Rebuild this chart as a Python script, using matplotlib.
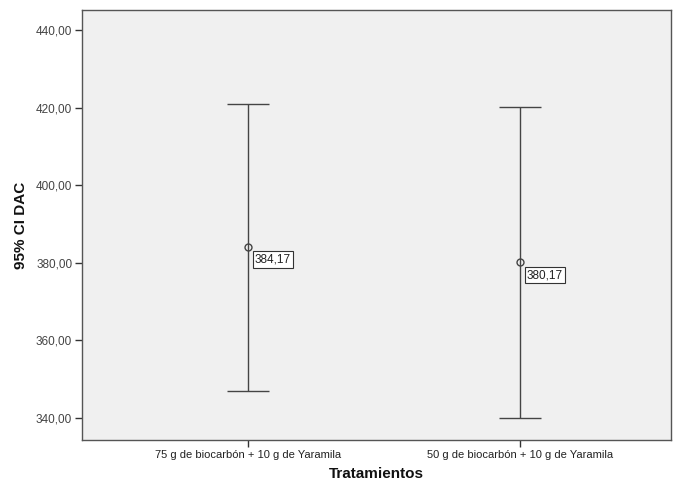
import matplotlib
matplotlib.use("Agg")
import matplotlib.pyplot as plt
from matplotlib.ticker import FuncFormatter

plt.rcParams['font.family'] = ['Liberation Sans', 'DejaVu Sans']

# treatment groups and their 95% CI for DAC
tratamientos = ["75 g de biocarbón + 10 g de Yaramila",
                "50 g de biocarbón + 10 g de Yaramila"]
medias = [384.17, 380.17]
ic_inf = [347.0, 340.0]
ic_sup = [421.0, 420.1]
yticks = [340, 360, 380, 400, 420, 440]

fig = plt.figure(figsize=(6.82, 4.84), dpi=100)
ax = fig.add_axes([0.1202, 0.0909, 0.8637, 0.8884])
ax.set_facecolor("#f0f0f0")

x = list(range(len(tratamientos)))
err_lo = [m - lo for m, lo in zip(medias, ic_inf)]
err_hi = [hi - m for m, hi in zip(medias, ic_sup)]
ax.errorbar(x, medias, yerr=[err_lo, err_hi], fmt="o", color="#444444",
            mfc="none", mec="#444444", ms=5, mew=1.0, elinewidth=1.0,
            capsize=15, capthick=1.0)

for xi, m in zip(x, medias):
    ax.annotate(f"{m:.2f}".replace(".", ","), (xi, m), xytext=(5, -5),
                textcoords="offset points", ha="left", va="top", fontsize=8.5,
                color="#222222",
                bbox=dict(boxstyle="square,pad=0.2", fc="white", ec="#333333", lw=0.8))

ax.set_xlim(-0.61, 1.555)
ax.set_ylim(334.3, 445.2)
ax.set_xticks(x)
ax.set_xticklabels(tratamientos, fontsize=8, color="#222222")
ax.set_yticks(yticks)
ax.yaxis.set_major_formatter(FuncFormatter(lambda v, p: f"{v:.2f}".replace(".", ",")))
ax.tick_params(axis="y", labelsize=8.5, labelcolor="#444444", length=5, width=1, color="#333333", pad=2)
ax.tick_params(axis="x", length=5, width=1, color="#333333", pad=2)

for s in ax.spines.values():
    s.set_color("#555555")
    s.set_linewidth(1.0)

ax.set_xlabel("Tratamientos", fontsize=11, fontweight="bold", color="#111111", labelpad=5)
ax.set_ylabel("95% CI DAC", fontsize=11, fontweight="bold", color="#111111", labelpad=6)

fig.savefig("out.png", dpi=100)
